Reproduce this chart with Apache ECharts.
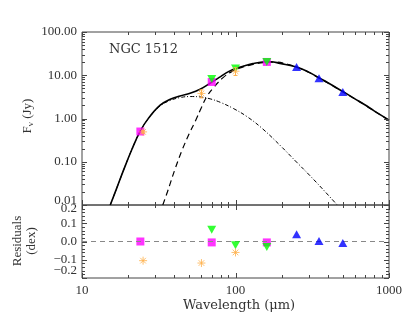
<!DOCTYPE html>
<html><head><meta charset="utf-8">
<script src="https://cdn.jsdelivr.net/npm/echarts@6/dist/echarts.min.js"></script>
<style>html,body{margin:0;padding:0;background:#fff}#c{width:409px;height:316px}</style>
</head><body><div id="c"></div>
<script>
// ---- Data ----
const totalWl = [15.28, 16.84, 18.65, 21.15, 23.95, 27.13, 32.3, 37.6, 43.6, 50.6, 58.8, 68.3, 80, 90, 100, 115, 130, 150, 170, 195, 250, 300, 350, 400, 500, 600, 700, 800, 1000];
const totalF  = [0.01, 0.0246, 0.064, 0.195, 0.509, 1.02, 2.03, 2.79, 3.33, 3.84, 4.75, 6.55, 9.3, 12.1, 14.3, 16.6, 18.6, 20.3, 20.6, 18.8, 15.5, 11.8, 8.7, 6.7, 4.2, 2.85, 2.05, 1.5, 0.92];
const warmWl  = [15.28, 16.84, 18.65, 21.15, 23.95, 27.13, 32.3, 37.6, 43.6, 50.6, 58.8, 68.3, 80, 97, 120, 150, 195, 250, 305, 380, 466];
const warmF   = [0.01, 0.0246, 0.064, 0.195, 0.505, 1.0, 1.95, 2.62, 3.05, 3.22, 3.15, 2.85, 2.35, 1.7, 1.08, 0.58, 0.24, 0.098, 0.048, 0.021, 0.0095];
const coldWl  = [33.6, 36, 40.5, 45, 50, 55, 60, 65, 72, 83, 95, 110, 130, 155, 180, 220, 250, 300, 350, 400, 500, 600, 700, 800, 1000];
const coldF   = [0.01, 0.02, 0.07, 0.19, 0.45, 0.9, 1.8, 3.2, 5.2, 8.8, 12.3, 15.2, 17.8, 19.8, 20.2, 17.8, 15.4, 11.7, 8.6, 6.6, 4.15, 2.82, 2.03, 1.49, 0.91];

const magentaWl = [24, 70, 160];
const magentaF  = [0.5, 7.0, 20.3];
const magentaRes = [0.0, -0.005, -0.005];
const greenWl = [70, 100, 160];
const greenF  = [8.2, 14.3, 20.3];
const greenRes = [0.065, -0.02, -0.03];
const blueWl = [250, 350, 500];
const blueF  = [15.6, 8.5, 4.1];
const blueRes = [0.04, 0.003, -0.008];
const orangeWl = [25, 60, 100];
const orangeF  = [0.49, 3.8, 12.4];
const orangeErr = [0.03, 0.8, 2.5];
const orangeRes = [-0.105, -0.118, -0.06];

const xMajor = [10, 100, 1000];
const xMinor = [20, 30, 40, 50, 60, 70, 80, 90, 200, 300, 400, 500, 600, 700, 800, 900];
const yMajorTop = [0.01, 0.1, 1, 10, 100];
const yMinorTop = [0.02,0.03,0.04,0.05,0.06,0.07,0.08,0.09,0.2,0.3,0.4,0.5,0.6,0.7,0.8,0.9,2,3,4,5,6,7,8,9,20,30,40,50,60,70,80,90];
const resMajor = [-0.2, -0.1, 0, 0.1, 0.2];
const resMinor = [-0.18,-0.16,-0.14,-0.12,-0.08,-0.06,-0.04,-0.02,0.02,0.04,0.06,0.08,0.12,0.14,0.16,0.18];

const pairs = (a, b) => a.map((v, i) => [v, b[i]]);
const FRAME = '#444', TXT = '#333';
const TICKFONT = '"Liberation Serif", serif';
const MAJ = 5, MIN = 3;

function makeTicks(xMaj, xMin, yMaj, yMin, xRef, yRef) {
  return function (params, api) {
    const cs = params.coordSys;
    const x0 = cs.x, x1 = cs.x + cs.width, y0 = cs.y, y1 = cs.y + cs.height;
    const ch = [];
    const add = (a, b, c, d) => ch.push({type: 'line', shape: {x1: a, y1: b, x2: c, y2: d}, style: {stroke: FRAME, lineWidth: 1}});
    const xs = (vals, len) => vals.forEach(v => { const p = Math.round(api.coord([v, yRef])[0]) + 0.5; add(p, y1, p, y1 - len); add(p, y0, p, y0 + len); });
    const ys = (vals, len) => vals.forEach(v => { const p = Math.round(api.coord([xRef, v])[1]) + 0.5; add(x0, p, x0 + len, p); add(x1, p, x1 - len, p); });
    xs(xMaj, MAJ); xs(xMin, MIN); ys(yMaj, MAJ); ys(yMin, MIN);
    return {type: 'group', children: ch, silent: true};
  };
}
const resFmt = v => Math.abs(v) < 1e-9 ? '0.0' : (v < 0 ? '\u2212' : '') + Math.abs(v).toFixed(1);

const asterisk = 'path://M0,-10L0,10M-10,0L10,0M-7,-7L7,7M-7,7L7,-7';
const ORANGE = '#ffb04a';
const shiftRich = {lo: {padding: [0, 0, 8, 0]}};

const chart = echarts.init(document.getElementById('c'), null, {renderer: 'canvas'});
const logX = (gi, labels) => ({
  gridIndex: gi, type: 'log', logBase: 10, min: 10, max: 1000,
  axisLine: {show: false}, axisTick: {show: false}, splitLine: {show: false},
  axisLabel: labels ? {show: true, color: TXT, fontFamily: TICKFONT, fontSize: 13, margin: 6,
    showMinLabel: true, showMaxLabel: true, formatter: v => String(Math.round(v))} : {show: false}
});

chart.setOption({
  animation: false,
  grid: [
    {left: 82, top: 32, width: 307, height: 173, show: true, borderColor: FRAME, borderWidth: 1, backgroundColor: 'transparent'},
    {left: 82, top: 205, width: 307, height: 73, show: true, borderColor: FRAME, borderWidth: 1, backgroundColor: 'transparent'}
  ],
  xAxis: [logX(0, false), logX(1, true)],
  yAxis: [
    {gridIndex: 0, type: 'log', logBase: 10, min: 0.01, max: 100,
      axisLine: {show: false}, axisTick: {show: false}, splitLine: {show: false},
      axisLabel: {color: TXT, fontFamily: TICKFONT, fontSize: 13, margin: 5, rich: shiftRich,
        showMinLabel: true, showMaxLabel: true, hideOverlap: false,
        formatter: v => { const s = Number(v).toFixed(2); return v < 0.015 ? '{lo|' + s + '}' : s; }}},
    {gridIndex: 1, type: 'value', min: -0.2, max: 0.2, interval: 0.1,
      axisLine: {show: false}, axisTick: {show: false}, splitLine: {show: false},
      axisLabel: {show: false}}
  ],
  graphic: [
    {type: 'text', x: 109, y: 50, style: {text: 'NGC 1512', font: '13px "DejaVu Serif"', fill: TXT, verticalAlign: 'middle'}},
    {type: 'text', x: 28, y: 116, rotation: Math.PI / 2, style: {
      text: 'F{sub|\u03bd} (Jy)', font: '13px "Liberation Serif"', fill: TXT, align: 'center', verticalAlign: 'middle',
      rich: {sub: {font: '9px "Liberation Serif"', fill: TXT, padding: [6, 0, 0, 0]}}}},
    {type: 'text', x: 25, y: 241, rotation: Math.PI / 2, style: {
      text: 'Residuals\n(dex)', font: '13px "Liberation Serif"', fill: TXT, align: 'center', verticalAlign: 'middle', lineHeight: 14}},
    {type: 'text', x: 239, y: 306, style: {text: 'Wavelength (\u03bcm)', font: '13px "DejaVu Serif"', fill: TXT, align: 'center', verticalAlign: 'middle'}}
  ],
  series: [
    {type: 'custom', xAxisIndex: 0, yAxisIndex: 0, data: [[100, 1]], z: 10, silent: true,
      renderItem: makeTicks(xMajor, xMinor, yMajorTop, yMinorTop, 100, 1)},
    {type: 'custom', xAxisIndex: 1, yAxisIndex: 1, data: [[100, 0]], z: 10, silent: true,
      renderItem: makeTicks(xMajor, xMinor, resMajor, resMinor, 100, 0)},
    // residual axis tick labels, placed through the residual axis scale
    {type: 'custom', xAxisIndex: 1, yAxisIndex: 1, clip: false, silent: true, z: 10,
      data: resMajor.map(v => [10, v]),
      renderItem: (p, api) => {
        const v = api.value(1);
        const c = api.coord([api.value(0), v]);
        const dy = v > 0.15 ? 4 : (v < -0.15 ? -7 : 0);
        return {type: 'text', x: c[0] - 5, y: c[1] + dy, style: {
          text: resFmt(v), fill: TXT, font: '13px "Liberation Serif"', align: 'right', verticalAlign: 'middle'}};
      }},
    {type: 'line', xAxisIndex: 0, yAxisIndex: 0, data: pairs(warmWl, warmF), symbol: 'none', smooth: 0.4,
      lineStyle: {color: '#000', width: 1, type: [4, 2, 1, 2]}, z: 2},
    {type: 'line', xAxisIndex: 0, yAxisIndex: 0, data: pairs(coldWl, coldF), symbol: 'none', smooth: 0.4,
      lineStyle: {color: '#000', width: 1.2, type: [6, 4]}, z: 2},
    {type: 'line', xAxisIndex: 0, yAxisIndex: 0, data: pairs(totalWl, totalF), symbol: 'none', smooth: 0.4,
      lineStyle: {color: '#000', width: 1.6}, z: 3},
    {type: 'scatter', xAxisIndex: 0, yAxisIndex: 0, data: pairs(magentaWl, magentaF), symbol: 'rect', symbolSize: 8,
      itemStyle: {color: '#ff00ff'}, z: 4},
    {type: 'scatter', xAxisIndex: 0, yAxisIndex: 0, data: pairs(greenWl, greenF), symbol: 'triangle', symbolRotate: 180, symbolSize: [9, 8],
      itemStyle: {color: '#00ff00'}, z: 5},
    {type: 'scatter', xAxisIndex: 0, yAxisIndex: 0, data: pairs(blueWl, blueF), symbol: 'triangle', symbolSize: [9, 8],
      itemStyle: {color: '#0000ff'}, z: 5},
    {type: 'custom', xAxisIndex: 0, yAxisIndex: 0, z: 6, silent: true,
      data: orangeWl.map((w, i) => [w, orangeF[i], orangeErr[i]]),
      renderItem: (p, api) => {
        const x = api.value(0), y = api.value(1), e = api.value(2);
        const t = api.coord([x, y + e]), b = api.coord([x, y - e]);
        const st = {stroke: ORANGE, lineWidth: 1};
        return {type: 'group', children: [
          {type: 'line', shape: {x1: t[0], y1: t[1], x2: b[0], y2: b[1]}, style: st},
          {type: 'line', shape: {x1: t[0] - 2, y1: t[1], x2: t[0] + 2, y2: t[1]}, style: st},
          {type: 'line', shape: {x1: b[0] - 2, y1: b[1], x2: b[0] + 2, y2: b[1]}, style: st}
        ]};
      }},
    {type: 'scatter', xAxisIndex: 0, yAxisIndex: 0, data: pairs(orangeWl, orangeF), symbol: asterisk, symbolSize: 8,
      itemStyle: {color: 'rgba(0,0,0,0)', borderColor: ORANGE, borderWidth: 1}, z: 7},
    // residuals
    {type: 'scatter', xAxisIndex: 1, yAxisIndex: 1, data: pairs(magentaWl, magentaRes), symbol: 'rect', symbolSize: 8,
      itemStyle: {color: '#ff00ff'}, z: 4,
      markLine: {silent: true, symbol: 'none', label: {show: false}, data: [{yAxis: 0}],
        lineStyle: {color: '#888', width: 1, type: [5, 4]}}},
    {type: 'scatter', xAxisIndex: 1, yAxisIndex: 1, data: pairs(greenWl, greenRes), symbol: 'triangle', symbolRotate: 180, symbolSize: [9, 8],
      itemStyle: {color: '#00ff00'}, z: 5},
    {type: 'scatter', xAxisIndex: 1, yAxisIndex: 1, data: pairs(blueWl, blueRes), symbol: 'triangle', symbolSize: [9, 8],
      itemStyle: {color: '#0000ff'}, z: 5},
    {type: 'scatter', xAxisIndex: 1, yAxisIndex: 1, data: pairs(orangeWl, orangeRes), symbol: asterisk, symbolSize: 8,
      itemStyle: {color: 'rgba(0,0,0,0)', borderColor: ORANGE, borderWidth: 1}, z: 7}
  ]
});
</script>
</body></html>
